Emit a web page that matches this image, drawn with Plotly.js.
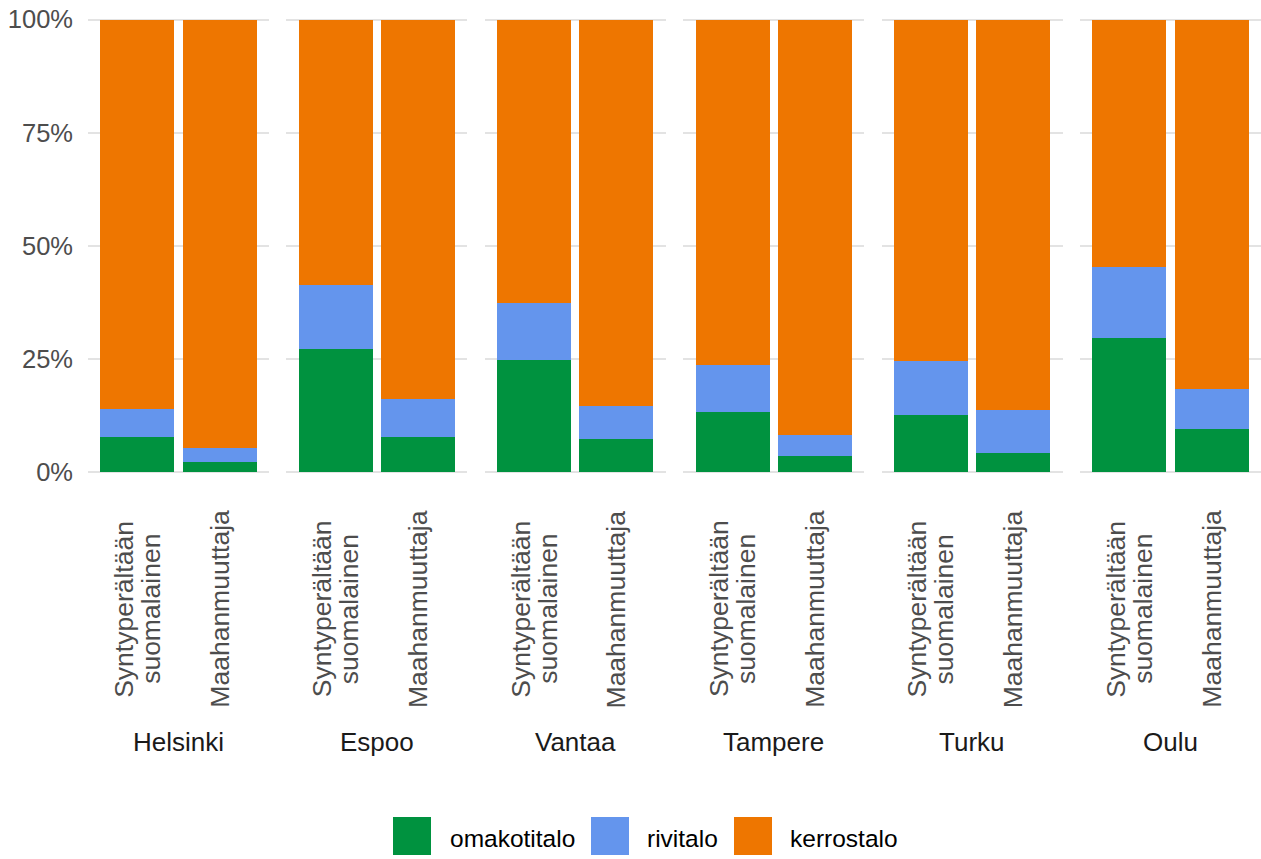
<!DOCTYPE html>
<html>
<head>
<meta charset="utf-8">
<script src="https://cdn.plot.ly/plotly-3.0.1.min.js"></script>
<style>html,body{margin:0;padding:0;background:#fff;}#chart{width:1261px;height:859px;}</style>
</head>
<body>
<div id="chart"></div>
<script>
// ---- data ----
const cities = ['Helsinki', 'Espoo', 'Vantaa', 'Tampere', 'Turku', 'Oulu'];
const groups = ['Syntyperältään suomalainen', 'Maahanmuuttaja'];
const groupLabels = ['Syntyperältään<br>suomalainen', 'Maahanmuuttaja'];
const housingTypes = ['omakotitalo', 'rivitalo', 'kerrostalo'];
const housingColors = ['#00923F', '#6495ED', '#EE7600'];
// percent shares per city: [syntyperältään suomalainen, maahanmuuttaja]
const omakotitalo = [[7.9, 2.3], [27.3, 7.7], [24.9, 7.4], [13.4, 3.7], [12.7, 4.3], [29.7, 9.5]];
const rivitalo    = [[6.0, 3.0], [14.0, 8.5], [12.4, 7.2], [10.3, 4.5], [12.0, 9.5], [15.6, 8.9]];
const kerrostalo  = [[86.1, 94.7], [58.7, 83.8], [62.7, 85.4], [76.3, 91.8], [75.3, 86.2], [54.7, 81.6]];
const yTickVals = [0, 0.25, 0.5, 0.75, 1];
const yTickText = ['0%', '25%', '50%', '75%', '100%'];

// ---- layout geometry ----
const W = 1261, H = 859;
const mL = 88, mR = 0, mT = 15, mB = 364;
const plotW = W - mL - mR, plotH = H - mT - mB;
const stride = 198.4, panelW = 181;
const FONT = 'Liberation Sans, Arial, sans-serif';
const pxX = px => (px - mL) / plotW;
const pxY = py => (H - mB - py) / plotH;

const seriesByType = [omakotitalo, rivitalo, kerrostalo];
const traces = [];
const layout = {
  width: W, height: H,
  margin: {l: mL, r: mR, t: mT, b: mB},
  paper_bgcolor: '#ffffff', plot_bgcolor: '#ffffff',
  barmode: 'stack', bargap: 0.1,
  showlegend: false,
  font: {family: FONT, size: 25, color: '#4d4d4d'},
  annotations: [], shapes: []
};

cities.forEach((city, c) => {
  const sfx = c === 0 ? '' : String(c + 1);
  const xa = 'x' + sfx, ya = 'y' + sfx;
  housingTypes.forEach((t, k) => {
    traces.push({
      type: 'bar', name: t,
      x: groups,
      y: seriesByType[k][c].map(v => v / 100),
      xaxis: xa, yaxis: ya,
      marker: {color: housingColors[k], line: {width: 0}},
      hovertemplate: city + ' – %{x}<br>' + t + ': %{y:.1%}<extra></extra>'
    });
  });
  const x0 = c * stride / plotW, x1 = (c * stride + panelW) / plotW;
  layout['xaxis' + sfx] = {
    domain: [x0, x1], anchor: ya, type: 'category',
    categoryorder: 'array', categoryarray: groups,
    range: [-0.6, 1.6], showticklabels: false, showgrid: false,
    zeroline: false, showline: false, ticks: '', fixedrange: true
  };
  layout['yaxis' + sfx] = {
    anchor: xa, range: [-0.05, 1.01],
    tickvals: yTickVals, ticktext: yTickText,
    showticklabels: c === 0, ticks: '', ticklabelstandoff: 14,
    tickfont: {family: FONT, size: 25.5, color: '#4d4d4d'},
    showgrid: true, gridcolor: '#e3e3e3', gridwidth: 2,
    zeroline: false, showline: false, fixedrange: true
  };
  if (c > 0) layout['yaxis' + sfx].matches = 'y';

  // rotated group labels under each bar
  groupLabels.forEach((lab, g) => {
    const lines = lab.split('<br>');
    lines.forEach((ln, i) => {
      layout.annotations.push({
        xref: xa, yref: 'paper', x: groups[g], y: pxY(609),
        xanchor: 'center', yanchor: 'middle',
        xshift: (i - (lines.length - 1) / 2) * 27,
        text: ln, textangle: -90, showarrow: false,
        font: {family: FONT, size: 26.5, color: '#4d4d4d'}
      });
    });
  });
  // facet (city) label
  layout.annotations.push({
    xref: xa + ' domain', yref: 'paper', x: 0.5, y: pxY(742),
    xanchor: 'center', yanchor: 'middle',
    text: city, showarrow: false,
    font: {family: FONT, size: 26, color: '#1a1a1a'}
  });
});

// legend drawn as keys + labels
const keyLeft = [393, 591, 734];
const labelLeft = [448, 645, 788];
housingTypes.forEach((t, k) => {
  layout.shapes.push({
    type: 'rect', xref: 'paper', yref: 'paper',
    x0: pxX(keyLeft[k]), x1: pxX(keyLeft[k] + 38),
    y0: pxY(817), y1: pxY(855),
    fillcolor: housingColors[k], line: {width: 0}
  });
  layout.annotations.push({
    xref: 'paper', yref: 'paper', x: pxX(labelLeft[k]), y: pxY(838),
    xanchor: 'left', yanchor: 'middle', text: t, showarrow: false,
    font: {family: FONT, size: 24.5, color: '#000000'}
  });
});

Plotly.newPlot('chart', traces, layout, {displayModeBar: false, staticPlot: true});
</script>
</body>
</html>
